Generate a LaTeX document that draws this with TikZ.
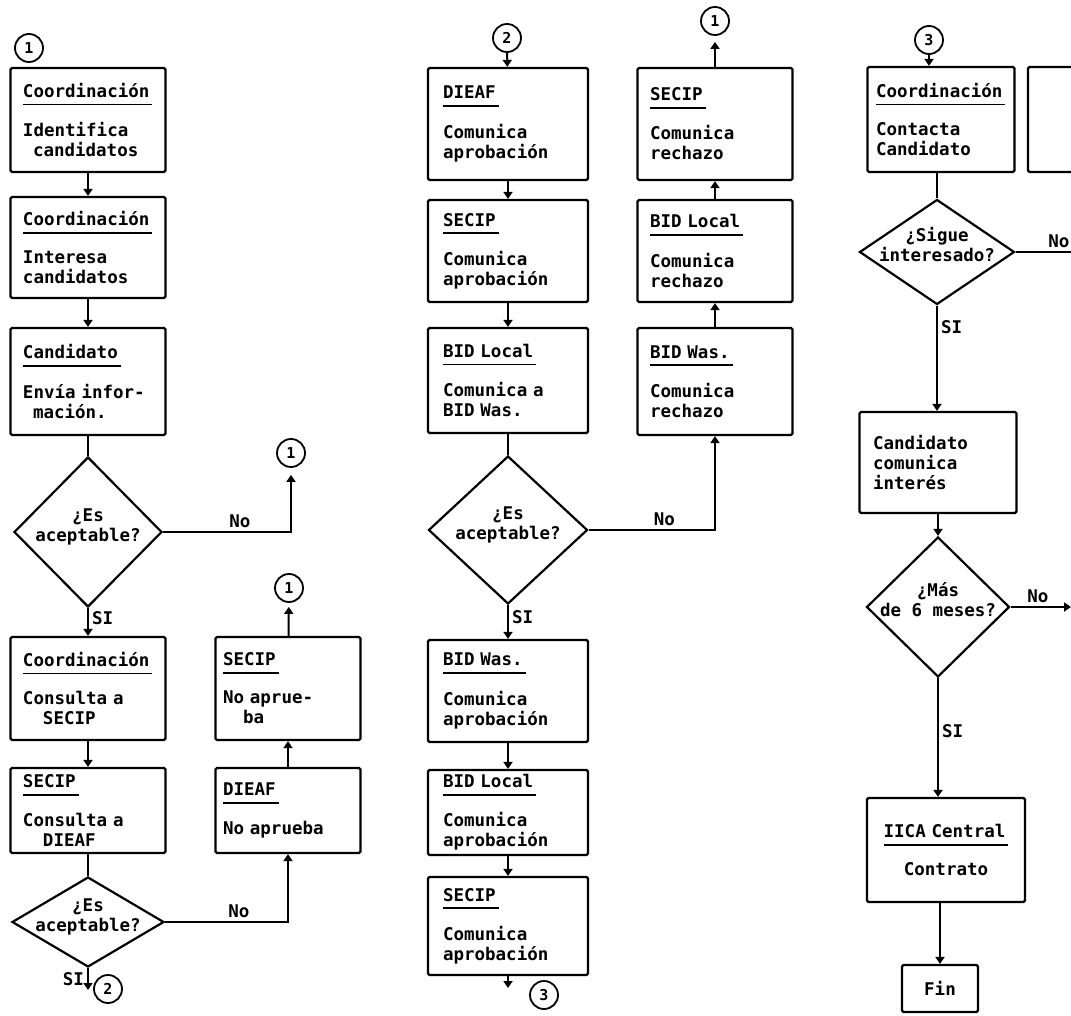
\documentclass[tikz,border=0pt]{standalone}
\usepackage{fontspec}
\setmonofont{DejaVu Sans Mono}
\usetikzlibrary{shapes.geometric,arrows.meta}

\def\boxfont{\ttfamily\bfseries\fontsize{17.5}{20}\selectfont}
\newlength\hdrw
\newcommand\hdr[1]{\settowidth\hdrw{#1}\addtolength\hdrw{3pt}\rlap{#1}\raisebox{-8pt}{\rule{\hdrw}{1.8pt}}}
\newcommand\dtx[1]{\smash{\makebox[0pt]{\begin{tabular}{@{}c@{}}#1\end{tabular}}}}
\def\ind{\hspace*{10pt}}

\tikzset{
  stepbox/.style 2 args={draw, line width=2.2pt, rounded corners=1.5pt, text width=130pt,
    align=left, inner xsep=7pt, font=\boxfont, minimum width=#1, minimum height=#2},
  endbox/.style={draw, line width=2.2pt, rounded corners=1.5pt, font=\boxfont,
    minimum width=76pt, minimum height=47pt},
  ask/.style 2 args={draw, line width=2.2pt, diamond, inner sep=0pt, font=\boxfont,
    minimum width=#1, minimum height=#2},
  link/.style={draw, circle, line width=1.8pt, minimum size=28pt, inner sep=0pt,
    font=\ttfamily\bfseries\fontsize{15}{15}\selectfont},
  wire/.style={line width=2pt},
  flow/.style={line width=2pt, -{Triangle[length=7pt,width=9pt]}},
  tag/.style={font=\boxfont, inner sep=3pt}
}

\begin{document}
\begin{tikzpicture}[x=1pt,y=-1pt]
\useasboundingbox (0,0) rectangle (1071,1016);

% first column
\node[link] (k0) at (29,48) {1};
\node[stepbox={155pt}{104pt}] (b1) at (88,120) {\hdr{Coordinación}\\[16pt]Identifica\\\ind candidatos};
\node[stepbox={155pt}{101pt}] (b2) at (88,247.5) {\hdr{Coordinación}\\[16pt]Interesa\\candidatos};
\node[stepbox={155pt}{107pt}] (b3) at (88,381.5) {\hdr{Candidato}\\[16pt]Envía infor-\\\ind mación.};
\node[ask={148pt}{150pt}] (d1) at (88,532) {\dtx{¿Es\\aceptable?}};
\node[link] (k1) at (291,453) {1};
\node[stepbox={155pt}{103pt}] (b4) at (88,688.5) {\hdr{Coordinación}\\[16pt]Consulta a\\\ind\ind SECIP};
\node[stepbox={155pt}{85pt}] (b5) at (88,810.5) {\hdr{SECIP}\\[16pt]Consulta a\\\ind\ind DIEAF};
\node[ask={152pt}{90pt}] (d3) at (88,922) {\dtx{¿Es\\aceptable?}};
\coordinate (s2) at (88,990);
\node[link] (k2) at (108,989) {2};
\node[link] (k3) at (289,588) {1};
\node[stepbox={145pt}{103pt}] (r1) at (288,688.5) {\hdr{SECIP}\\[16pt]No aprue-\\\ind\ind ba};
\node[stepbox={145pt}{85pt}] (r2) at (288,810.5) {\hdr{DIEAF}\\[16pt]No aprueba};

\draw[flow] (b1) -- (b2);
\draw[flow] (b2) -- (b3);
\draw[wire] (b3) -- (d1);
\draw[flow, shorten >=7pt] (d1.east) -| node[tag, above, pos=.3] {No} (k1);
\draw[flow] (d1) -- node[tag, right, pos=.35] {SI} (b4);
\draw[flow] (b4) -- (b5);
\draw[wire] (b5) -- (d3);
\draw[flow] (d3) -- node[tag, left, pos=.5] {SI} (s2);
\draw[flow] (d3.east) -| node[tag, above, pos=.3] {No} (r2);
\draw[flow] (r2) -- (r1);
\draw[flow, shorten >=4pt] (r1) -- (k3);

% second column
\node[link] (k4) at (507,38) {2};
\node[stepbox={160pt}{112pt}] (e1) at (508,124) {\hdr{DIEAF}\\[16pt]Comunica\\aprobación};
\node[stepbox={160pt}{102pt}] (e2) at (508,251) {\hdr{SECIP}\\[16pt]Comunica\\aprobación};
\node[stepbox={160pt}{105pt}] (e3) at (508,380.5) {\hdr{BID Local}\\[16pt]Comunica a\\BID Was.};
\node[ask={159pt}{148pt}] (d2) at (508,530) {\dtx{¿Es\\aceptable?}};
\node[stepbox={160pt}{102pt}] (e4) at (508,691) {\hdr{BID Was.}\\[16pt]Comunica\\aprobación};
\node[stepbox={160pt}{85pt}] (e5) at (508,812.5) {\hdr{BID Local}\\[16pt]Comunica\\aprobación};
\node[stepbox={160pt}{98pt}] (e6) at (508,926) {\hdr{SECIP}\\[16pt]Comunica\\aprobación};
\coordinate (s3) at (508,988);
\node[link] (k6) at (544,995) {3};
\node[link] (k5) at (715,21) {1};
\node[stepbox={155pt}{112pt}] (f1) at (715,124) {\hdr{SECIP}\\[16pt]Comunica\\rechazo};
\node[stepbox={155pt}{102pt}] (f2) at (715,251) {\hdr{BID Local}\\[16pt]Comunica\\rechazo};
\node[stepbox={155pt}{107pt}] (f3) at (715,381.5) {\hdr{BID Was.}\\[16pt]Comunica\\rechazo};

\draw[flow] (k4) -- (e1);
\draw[flow] (e1) -- (e2);
\draw[flow] (e2) -- (e3);
\draw[wire] (e3) -- (d2);
\draw[flow] (d2) -- node[tag, right, pos=.35] {SI} (e4);
\draw[flow] (e4) -- (e5);
\draw[flow] (e5) -- (e6);
\draw[flow] (e6) -- (s3);
\draw[flow] (d2.east) -| node[tag, above, pos=.3] {No} (f3);
\draw[flow] (f3) -- (f2);
\draw[flow] (f2) -- (f1);
\draw[flow, shorten >=6pt] (f1) -- (k5);

% third column
\node[link] (k7) at (929,40) {3};
\node[stepbox={147pt}{105pt}] (g1) at (941,119.5) {\hdr{Coordinación}\\[16pt]Contacta\\Candidato};
\node[ask={155pt}{105pt}] (d4) at (937,252) {\dtx{¿Sigue\\interesado?}};
\coordinate (o1) at (1071,252);
\node[stepbox={157pt}{101pt}] (g2) at (938,462.5) {Candidato\\comunica\\interés};
\node[ask={143pt}{140pt}] (d5) at (938,607) {\dtx{¿Más\\de 6 meses?}};
\coordinate (o2) at (1071,607);
\node[stepbox={158pt}{104pt}, align=center] (g3) at (946,850) {\hdr{IICA Central}\\[16pt]Contrato};
\node[endbox] (g4) at (940,988.5) {Fin};

\draw[flow] (k7) -- (k7 |- g1.north);
\draw[wire] (d4.north |- g1.south) -- (d4.north);
\draw[wire] (d4.east) -- node[tag, above, pos=.78] {No} (o1);
\draw[flow] (d4.south) -- node[tag, right, pos=.2] {SI} (d4.south |- g2.north);
\draw[flow] (g2.south -| d5.north) -- (d5.north);
\draw[flow] (d5.east) -- node[tag, above, pos=.45] {No} (o2);
\draw[flow] (d5.south) -- node[tag, right, pos=.45] {SI} (d5.south |- g3.north);
\draw[flow] (g4.north |- g3.south) -- (g4.north);

\begin{scope}
  \clip (0,0) rectangle (1071,1016);
  \node[stepbox={70pt}{105pt}] (h1) at (1100,119.5) {};
\end{scope}
\end{tikzpicture}
\end{document}
